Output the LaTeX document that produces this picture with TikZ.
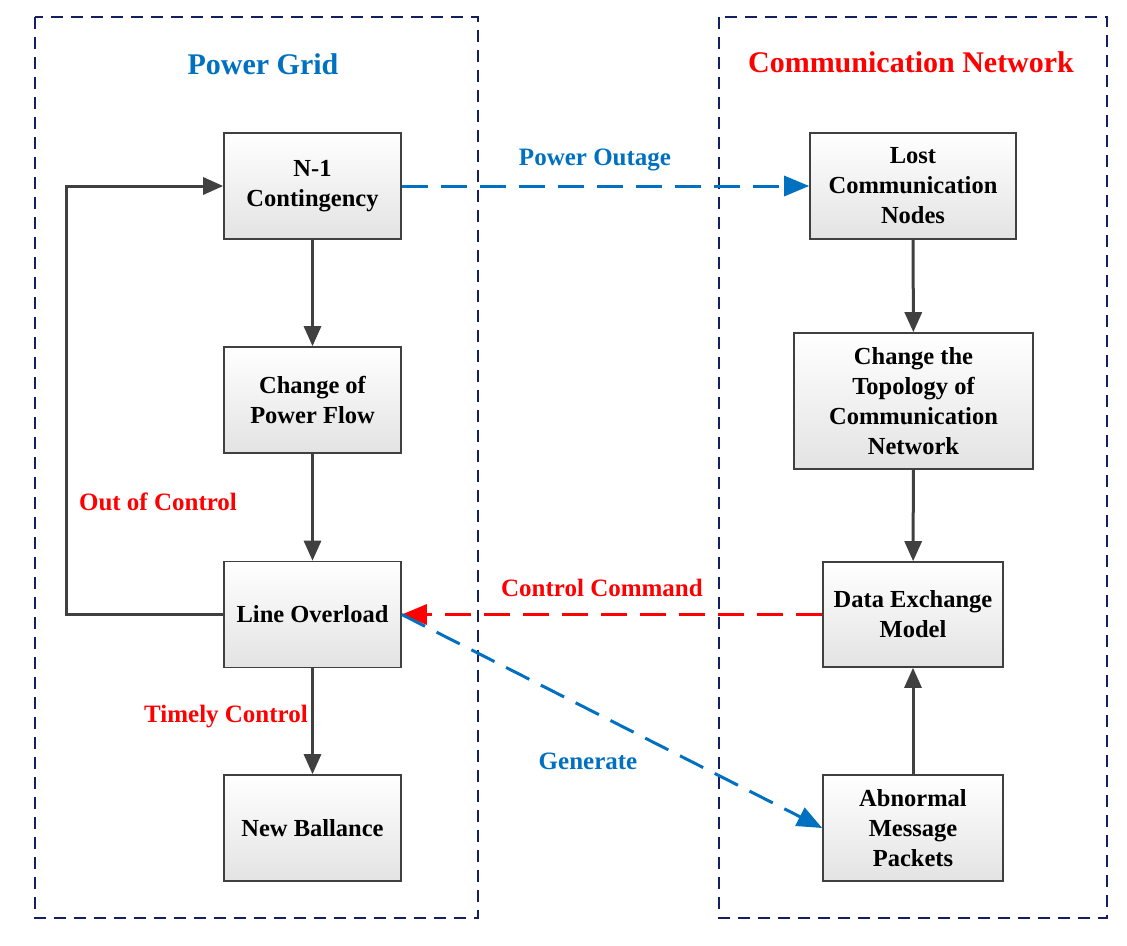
\documentclass[tikz,border=0pt]{standalone}
\usepackage{fontspec}
\setmainfont{Liberation Serif}
\usetikzlibrary{arrows.meta}
\definecolor{pblue}{RGB}{0,112,192}
\definecolor{pred}{RGB}{255,0,0}
\definecolor{navy}{RGB}{20,30,100}
\definecolor{edge}{RGB}{64,64,64}
\tikzset{
  box/.style={draw=edge, line width=1.6pt, top color=white, bottom color=black!11, inner sep=0pt, align=center, font=\fontsize{24.5}{30}\selectfont\bfseries},
  frame/.style={draw=navy, line width=1.6pt, dash pattern=on 12pt off 8pt},
  flow/.style={draw=edge, line width=3pt, -{Triangle[length=20pt,width=17pt]}},
  bluedash/.style={draw=pblue, line width=3pt, dash pattern=on 26pt off 13pt, -{Triangle[length=25pt,width=20pt]}},
  reddash/.style={draw=pred, line width=3pt, dash pattern=on 26pt off 13pt, -{Triangle[length=25pt,width=20pt]}},
  ttl/.style={font=\fontsize{30}{35}\selectfont\bfseries},
  lbl/.style={font=\fontsize{25}{30}\selectfont\bfseries},
}
\begin{document}
\begin{tikzpicture}[x=1pt,y=-1pt]
\useasboundingbox (0,0) rectangle (1127,945);
\path[frame] (35,17) rectangle (478,918);
\path[frame] (719,17) rectangle (1107,918);
\node[ttl, text=pblue] (tpg) at (263,64) {Power Grid};
\node[ttl, text=pred] (tcn) at (911,62) {Communication Network};

\node[box, minimum width=177pt, minimum height=106pt] (n1) at (312.5,186) {N-1\\Contingency};
\node[box, minimum width=177pt, minimum height=106pt] (cpf) at (312.5,400) {Change of\\Power Flow};
\node[box, minimum width=177pt, minimum height=106pt] (lo) at (312.5,614.5) {Line Overload};
\node[box, minimum width=177pt, minimum height=106pt] (nb) at (312.5,828) {New Ballance};

\node[box, minimum width=206pt, minimum height=106pt] (lost) at (913,186) {Lost\\Communication\\Nodes};
\node[box, minimum width=239pt, minimum height=136pt] (topo) at (913.5,401) {Change the\\Topology of\\Communication\\Network};
\node[box, minimum width=180pt, minimum height=105pt] (dem) at (913,614.5) {Data Exchange\\Model};
\node[box, minimum width=180pt, minimum height=106pt] (amp) at (913,828) {Abnormal\\Message\\Packets};

\draw[flow] (n1) -- (cpf);
\draw[flow] (cpf) -- (lo);
\draw[flow] (lo) -- (nb);
\draw[flow] (lost) -- (topo);
\draw[flow] (topo) -- (dem);
\draw[flow] (amp) -- (dem);
\coordinate (lp) at (66,614.5);
\draw[flow] (lo.west) -- (lp) |- (n1.west);

\draw[bluedash] (n1.east) -- (lost.west);
\draw[reddash] (dem.west) -- (lo.east);
\draw[bluedash] (lo.east) -- (amp.west);

\node[lbl, text=pblue] (lpo) at (595,160) {Power Outage};
\node[lbl, text=pred] (lcc) at (602,588) {Control Command};
\node[lbl, text=pblue] (lgen) at (588,761) {Generate};
\node[lbl, text=pred] (loc) at (158,502) {Out of Control};
\node[lbl, text=pred] (ltc) at (226,717) {Timely Control};
\end{tikzpicture}
\end{document}
